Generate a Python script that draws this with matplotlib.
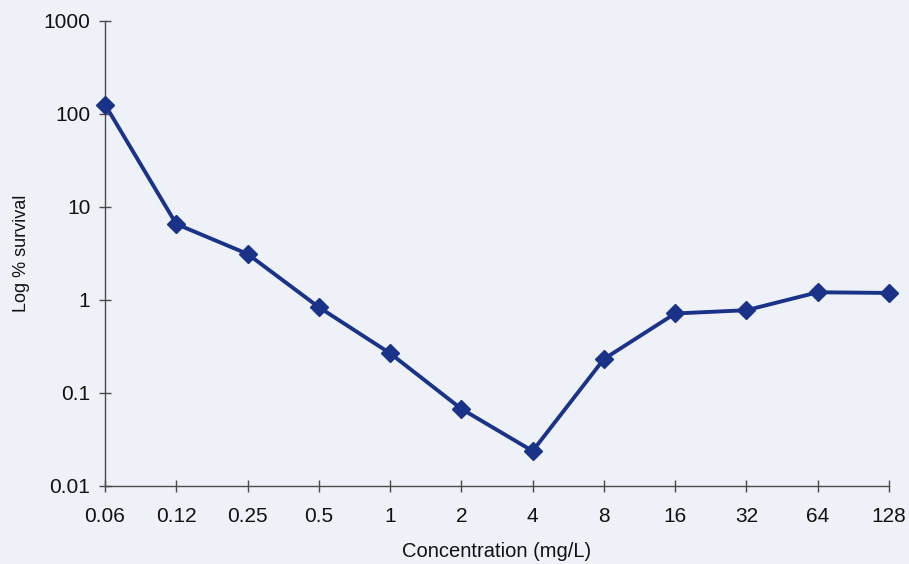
import matplotlib
matplotlib.use("Agg")
import matplotlib.pyplot as plt
import numpy as np

concentrations = ["0.06", "0.12", "0.25", "0.5", "1", "2", "4", "8", "16", "32", "64", "128"]
survival = [125, 6.5, 3.1, 0.83, 0.265, 0.067, 0.0236, 0.23, 0.71, 0.77, 1.2, 1.18]
y_ticks = [0.01, 0.1, 1, 10, 100, 1000]
y_tick_labels = ["0.01", "0.1", "1", "10", "100", "1000"]

bg = "#eef2f8"
line_color = "#1a3388"
axis_color = "#4a4a4a"

plt.rcParams["font.family"] = ["Liberation Sans", "DejaVu Sans"]

fig = plt.figure(figsize=(9.09, 5.64), dpi=100, facecolor=bg)
ax = fig.add_axes([0.1155, 0.1388, 0.978 - 0.1155, 0.9636 - 0.1388])
ax.set_facecolor(bg)

x = np.arange(len(concentrations))
ax.plot(x, survival, color=line_color, lw=2.8, marker="D", markersize=9,
        markerfacecolor=line_color, markeredgecolor=line_color, clip_on=False, zorder=3)

ax.set_yscale("log")
ax.set_ylim(0.01, 1000)
ax.set_xlim(0, len(concentrations) - 1)
ax.set_yticks(y_ticks)
ax.set_yticklabels(y_tick_labels)
ax.yaxis.set_minor_locator(matplotlib.ticker.NullLocator())
ax.set_xticks(x)
ax.set_xticklabels(concentrations)

for s in ("top", "right"):
    ax.spines[s].set_visible(False)
for s in ("left", "bottom"):
    ax.spines[s].set_color(axis_color)
    ax.spines[s].set_linewidth(1.0)

ax.tick_params(axis="both", direction="inout", length=9, width=1.0,
               colors=axis_color, labelcolor="#111111", labelsize=15)
ax.tick_params(axis="x", pad=11)
ax.tick_params(axis="y", pad=6)

ax.set_xlabel("Concentration (mg/L)", fontsize=14.5, color="#111111", labelpad=11)
ax.set_ylabel("Log % survival", fontsize=13, color="#111111", labelpad=10)

fig.savefig("out.png", dpi=100, facecolor=bg)
